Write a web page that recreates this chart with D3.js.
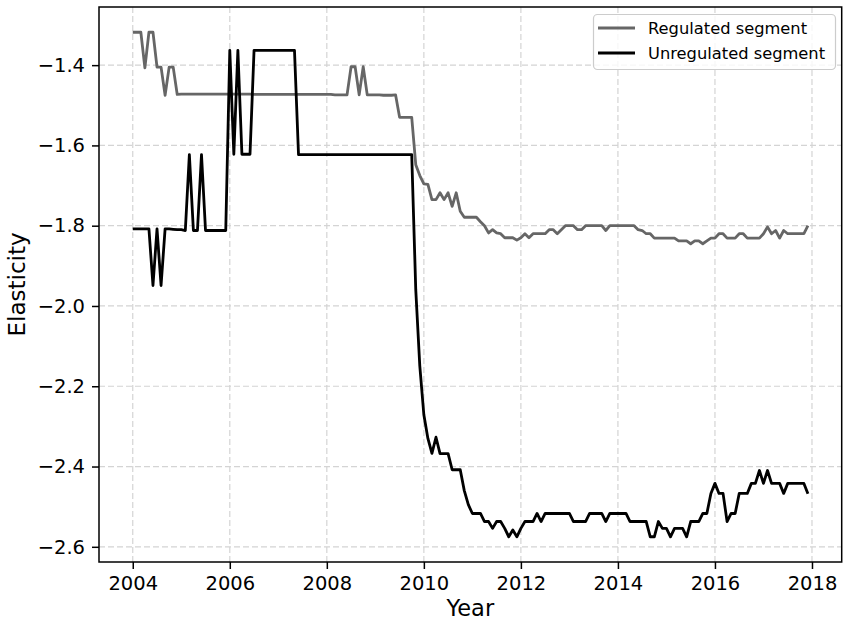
<!DOCTYPE html>
<html>
<head>
<meta charset="utf-8">
<script src="https://cdn.jsdelivr.net/npm/d3@7"></script>
<style>
  html, body { margin: 0; padding: 0; background: #fff; }
  svg { display: block; font-family: "DejaVu Sans", sans-serif; }
</style>
</head>
<body>
<svg id="chart" width="848" height="622"></svg>
<script>
// ---- data (monthly, Jan 2004 .. Dec 2017) ----
const startYear = 2004;
const seriesNames = ["Regulated segment", "Unregulated segment"];
const seriesColors = ["#666666", "#000000"];

const regulated = [
  -1.318,-1.318,-1.318,-1.407,-1.318,-1.318,-1.405,-1.405,-1.475,-1.405,-1.405,-1.473,
  -1.472,-1.472,-1.472,-1.472,-1.472,-1.472,-1.472,-1.472,-1.472,-1.472,-1.472,-1.472,
  -1.472,-1.472,-1.472,-1.472,-1.472,-1.472,-1.473,-1.473,-1.473,-1.473,-1.473,-1.473,
  -1.473,-1.473,-1.473,-1.473,-1.473,-1.473,-1.473,-1.473,-1.473,-1.473,-1.473,-1.473,
  -1.473,-1.473,-1.474,-1.474,-1.474,-1.474,-1.404,-1.404,-1.474,-1.404,-1.474,-1.474,
  -1.474,-1.474,-1.475,-1.475,-1.475,-1.474,-1.530,-1.530,-1.530,-1.530,-1.648,-1.675,
  -1.696,-1.697,-1.735,-1.735,-1.718,-1.735,-1.718,-1.752,-1.718,-1.764,-1.779,-1.779,
  -1.779,-1.779,-1.790,-1.800,-1.818,-1.810,-1.818,-1.820,-1.830,-1.830,-1.830,-1.836,
  -1.830,-1.820,-1.830,-1.820,-1.820,-1.820,-1.820,-1.810,-1.810,-1.820,-1.810,-1.800,
  -1.800,-1.800,-1.810,-1.810,-1.800,-1.800,-1.800,-1.800,-1.800,-1.812,-1.800,-1.800,
  -1.800,-1.800,-1.800,-1.800,-1.800,-1.810,-1.812,-1.820,-1.820,-1.831,-1.831,-1.831,
  -1.831,-1.831,-1.831,-1.838,-1.838,-1.838,-1.845,-1.838,-1.838,-1.845,-1.838,-1.831,
  -1.831,-1.820,-1.820,-1.831,-1.831,-1.831,-1.820,-1.820,-1.831,-1.831,-1.831,-1.831,
  -1.820,-1.803,-1.820,-1.812,-1.831,-1.812,-1.820,-1.820,-1.820,-1.820,-1.820,-1.800
];

const unregulated = [
  -1.808,-1.808,-1.808,-1.808,-1.808,-1.949,-1.808,-1.949,-1.808,-1.808,-1.809,-1.810,
  -1.810,-1.812,-1.623,-1.812,-1.812,-1.623,-1.812,-1.812,-1.812,-1.812,-1.812,-1.812,
  -1.363,-1.622,-1.363,-1.622,-1.622,-1.622,-1.363,-1.363,-1.363,-1.363,-1.363,-1.363,
  -1.363,-1.363,-1.363,-1.363,-1.363,-1.623,-1.623,-1.623,-1.623,-1.623,-1.623,-1.623,
  -1.623,-1.623,-1.623,-1.623,-1.623,-1.623,-1.623,-1.623,-1.623,-1.623,-1.623,-1.623,
  -1.623,-1.623,-1.623,-1.623,-1.623,-1.623,-1.623,-1.623,-1.623,-1.623,-1.960,-2.150,
  -2.271,-2.330,-2.367,-2.327,-2.368,-2.368,-2.368,-2.408,-2.408,-2.408,-2.460,-2.495,
  -2.517,-2.517,-2.517,-2.537,-2.537,-2.554,-2.537,-2.537,-2.554,-2.575,-2.558,-2.575,
  -2.554,-2.537,-2.537,-2.537,-2.517,-2.537,-2.517,-2.517,-2.517,-2.517,-2.517,-2.517,
  -2.517,-2.537,-2.537,-2.537,-2.537,-2.517,-2.517,-2.517,-2.517,-2.537,-2.517,-2.517,
  -2.517,-2.517,-2.517,-2.537,-2.537,-2.537,-2.537,-2.537,-2.575,-2.575,-2.537,-2.554,
  -2.554,-2.575,-2.554,-2.554,-2.554,-2.575,-2.537,-2.537,-2.537,-2.517,-2.517,-2.467,
  -2.442,-2.467,-2.467,-2.537,-2.517,-2.517,-2.467,-2.467,-2.467,-2.442,-2.442,-2.410,
  -2.442,-2.410,-2.442,-2.442,-2.442,-2.467,-2.442,-2.442,-2.442,-2.442,-2.442,-2.468
];

const xTicks = [2004, 2006, 2008, 2010, 2012, 2014, 2016, 2018];
const yTicks = [-2.6, -2.4, -2.2, -2.0, -1.8, -1.6, -1.4];
const xLabel = "Year";
const yLabel = "Elasticity";

// ---- layout ----
const svg = d3.select("#chart");
const plot = { left: 99, right: 841.7, top: 7, bottom: 562 };

const series = [regulated, unregulated].map((vals, k) => ({
  name: seriesNames[k],
  color: seriesColors[k],
  points: vals.map((v, i) => ({ t: startYear + i / 12, v }))
}));

const allT = series[0].points.map(p => p.t);
const tMin = d3.min(allT), tMax = d3.max(allT);
const tPad = (tMax - tMin) * 0.05;
const x = d3.scaleLinear().domain([tMin - tPad, tMax + tPad]).range([plot.left, plot.right]);

const allV = series.flatMap(s => s.points.map(p => p.v));
const vMin = d3.min(allV), vMax = d3.max(allV);
const vPad = (vMax - vMin) * 0.05;
const y = d3.scaleLinear().domain([vMin - vPad, vMax + vPad]).range([plot.bottom, plot.top]);

// grid
const grid = svg.append("g");
grid.selectAll("line.gx").data(xTicks).join("line")
  .attr("x1", d => x(d)).attr("x2", d => x(d))
  .attr("y1", plot.top).attr("y2", plot.bottom)
  .attr("stroke", "#d4d4d4").attr("stroke-width", 1.2).attr("stroke-dasharray", "6,3");
grid.selectAll("line.gy").data(yTicks).join("line")
  .attr("x1", plot.left).attr("x2", plot.right)
  .attr("y1", d => y(d)).attr("y2", d => y(d))
  .attr("stroke", "#d4d4d4").attr("stroke-width", 1.2).attr("stroke-dasharray", "6,3");

// lines
const line = d3.line().x(d => x(d.t)).y(d => y(d.v));
svg.append("g").selectAll("path").data(series).join("path")
  .attr("d", d => line(d.points))
  .attr("fill", "none")
  .attr("stroke", d => d.color)
  .attr("stroke-width", 2.8)
  .attr("stroke-linejoin", "round")
  .attr("stroke-linecap", "butt");

// spines
svg.append("rect")
  .attr("x", plot.left).attr("y", plot.top)
  .attr("width", plot.right - plot.left).attr("height", plot.bottom - plot.top)
  .attr("fill", "none").attr("stroke", "#000").attr("stroke-width", 1.5);

// axes
const xAxis = d3.axisBottom(x).tickValues(xTicks).tickFormat(d3.format("d")).tickSize(7).tickPadding(7);
const gx = svg.append("g").attr("transform", `translate(0,${plot.bottom})`).call(xAxis);
gx.select(".domain").remove();
gx.selectAll(".tick line").attr("stroke", "#000").attr("stroke-width", 1.5);
gx.selectAll(".tick text").attr("font-size", 19.5).attr("font-family", "DejaVu Sans").attr("fill", "#000");

const yAxis = d3.axisLeft(y).tickValues(yTicks)
  .tickFormat(d => d3.format(".1f")(d).replace("-", "\u2212")).tickSize(7).tickPadding(7);
const gy = svg.append("g").attr("transform", `translate(${plot.left},0)`).call(yAxis);
gy.select(".domain").remove();
gy.selectAll(".tick line").attr("stroke", "#000").attr("stroke-width", 1.5);
gy.selectAll(".tick text").attr("font-size", 19.5).attr("font-family", "DejaVu Sans").attr("fill", "#000");

// axis labels
svg.append("text")
  .attr("x", (plot.left + plot.right) / 2).attr("y", 616)
  .attr("text-anchor", "middle").attr("font-size", 22.5).attr("fill", "#000")
  .text(xLabel);
svg.append("text")
  .attr("transform", `translate(25,${(plot.top + plot.bottom) / 2}) rotate(-90)`)
  .attr("text-anchor", "middle").attr("font-size", 23).attr("fill", "#000")
  .text(yLabel);

// legend
const lg = svg.append("g");
const lgBox = { x: 593.5, y: 14.5, w: 242, h: 55 };
lg.append("rect")
  .attr("x", lgBox.x).attr("y", lgBox.y).attr("width", lgBox.w).attr("height", lgBox.h)
  .attr("rx", 4).attr("fill", "#fff").attr("fill-opacity", 0.8)
  .attr("stroke", "#cccccc").attr("stroke-width", 1.2);
const rows = lg.selectAll("g.row").data(series).join("g")
  .attr("transform", (d, i) => `translate(0,${28 + i * 25})`);
rows.append("line")
  .attr("x1", 598).attr("x2", 635).attr("y1", 0).attr("y2", 0)
  .attr("stroke", d => d.color).attr("stroke-width", 2.8);
rows.append("text")
  .attr("x", 648).attr("y", 0).attr("dy", "0.36em")
  .attr("font-size", 16.3).attr("fill", "#000")
  .text(d => d.name);
</script>
</body>
</html>
